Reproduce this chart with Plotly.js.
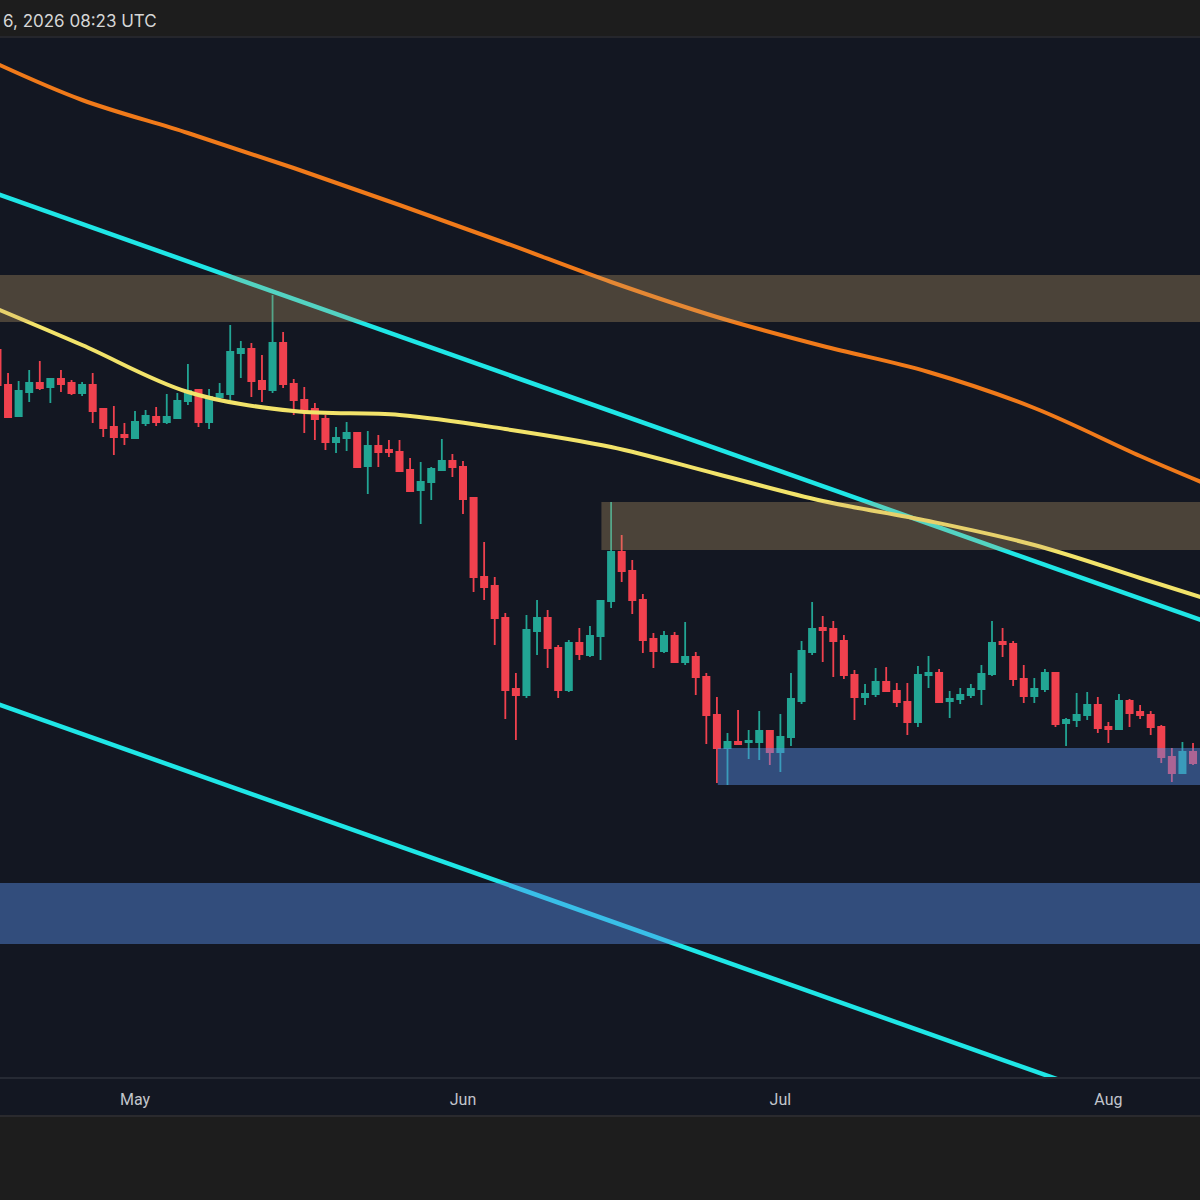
<!DOCTYPE html>
<html><head><meta charset="utf-8">
<script src="https://cdn.plot.ly/plotly-3.0.1.min.js"></script>
<style>html,body{margin:0;padding:0;background:#1e1e1e;}#chart{width:1200px;height:1200px;}</style>
</head><body><div id="chart"></div>
<script>
// ---- data (price in arbitrary chart units) ----
const firstDay = [2026, 3, 18]; // 18 Apr 2026, daily candles
const openVals = [
 728,693,662,686,695,691,699,695,685,693,669,651,643,
 640,655,661,656,660,677,688,656,681,684,
 725,729,697,688,735,694,678,669,659,636,
 640,645,612,632,628,626,608,588,596,608,
 617,611,580,501,492,460,389,383,447,460,
 430,388,435,423,442,477,526,507,478,439,
 427,442,416,421,401,363,330,336,336,336,
 347,326,341,377,426,450,449,437,403,381,
 384,396,387,376,356,403,405,377,379,383,
 389,404,436,434,399,382,389,405,355,358,
 363,373,351,349,377,366,363,351,321,305,326];
const closeVals = [
 693,661,687,695,690,699,694,685,693,667,650,641,641,
 656,662,656,661,677,687,656,681,684,726,
 729,697,689,735,694,678,668,659,636,640,
 645,611,632,626,626,607,587,596,609,617,
 611,579,501,491,460,388,383,448,460,430,
 388,435,424,442,477,526,507,478,438,427,
 442,416,421,401,363,330,336,334,337,347,
 326,341,379,427,449,448,437,403,381,384,
 396,387,376,356,403,405,376,379,383,389,
 404,435,434,399,382,389,405,354,358,363,
 373,350,349,377,365,363,351,321,305,326,315];
const highVals = [
 733,705,697,708,717,700,708,698,696,705,670,672,655,
 667,668,671,684,685,714,689,689,695,753,
 737,735,723,783,746,699,691,675,663,651,
 656,646,647,643,638,638,620,616,611,639,
 624,617,580,536,501,465,405,463,478,468,
 433,438,450,452,478,576,543,518,484,445,
 447,446,456,426,405,381,345,368,348,367,
 348,364,405,437,476,462,457,443,408,394,
 410,411,395,395,412,422,409,387,390,394,
 413,457,450,437,413,400,409,406,360,385,
 386,381,356,384,379,373,367,353,330,336,335];
const lowVals = [
 690,660,661,676,688,675,686,683,682,655,641,623,633,
 639,652,652,654,659,673,651,649,678,678,
 700,681,676,685,690,663,645,638,628,625,
 627,610,584,611,621,606,586,554,578,607,
 601,564,486,478,433,359,338,380,423,410,
 380,386,418,421,418,470,496,464,425,410,
 425,415,413,383,334,295,293,333,319,318,
 313,306,332,374,423,416,401,399,358,373,
 381,386,371,343,351,390,375,360,374,380,
 373,402,421,392,375,375,386,351,332,351,
 358,345,335,348,351,359,343,315,296,304,313];

const maDates = ['2026-04-18','2026-04-26','2026-05-06','2026-05-16','2026-05-26','2026-06-05',
                 '2026-06-15','2026-06-25','2026-07-05','2026-07-15','2026-07-25','2026-08-04','2026-08-10'];
const maSlow = [1014,978,945,910,873,835,796,761,732,706,670,622,595];   // orange
const maFast = [769,733,686,667,663,649,631,604,577,557,533,500,480];     // yellow

const channelDates = ['2026-04-18','2026-08-10'];
const channelUpper = [884, 457];
const channelLower = [374, -53];

const zoneStart = ['2026-04-01','2026-06-14 02:00','2026-06-25 02:00','2026-04-01'];
const zoneLow   = [756, 528, 293, 134];
const zoneHigh  = [803, 576, 330, 195];
const zoneKind  = ['supply','supply','demand','demand'];

const tickDates  = ['2026-05-01','2026-06-01','2026-07-01','2026-08-01'];
const tickLabels = ['May','Jun','Jul','Aug'];
const headerText = '6, 2026 08:23 UTC';

// ---- build ----
const dates = openVals.map((_, i) => {
  const d = new Date(Date.UTC(firstDay[0], firstDay[1], firstDay[2] + i));
  return d.toISOString().slice(0, 10);
});

const GREEN = '#22a594', RED = '#f0414e', CYAN = '#1fe6e6';
const zoneColors = {supply: 'rgba(206,170,111,0.30)', demand: 'rgba(88,145,236,0.45)'};

const traces = [
  {type:'scatter', mode:'lines', x:channelDates, y:channelUpper, line:{color:CYAN, width:4.5}, hoverinfo:'skip'},
  {type:'scatter', mode:'lines', x:channelDates, y:channelLower, line:{color:CYAN, width:4.5}, hoverinfo:'skip'},
  {type:'scatter', mode:'lines', x:maDates, y:maSlow, line:{color:'#f07a1a', width:4, shape:'spline', smoothing:1}, hoverinfo:'skip'},
  {type:'scatter', mode:'lines', x:maDates, y:maFast, line:{color:'#f2e36a', width:4, shape:'spline', smoothing:1}, hoverinfo:'skip'},
  {type:'candlestick', x:dates, open:openVals, high:highVals, low:lowVals, close:closeVals,
   increasing:{line:{color:GREEN, width:1.8}, fillcolor:GREEN},
   decreasing:{line:{color:RED, width:1.8}, fillcolor:RED},
   whiskerwidth:0, hoverinfo:'skip'}
];

const plotH = 1041;
const shapes = zoneStart.map((s, i) => ({
  type:'rect', xref:'x', yref:'y', x0:s, x1:'2026-08-20', y0:zoneLow[i], y1:zoneHigh[i],
  fillcolor:zoneColors[zoneKind[i]], line:{width:0}, layer:'above'
}));
// x-axis strip and separators
shapes.push({type:'rect', xref:'paper', yref:'paper', x0:0, x1:1, y0:-37/plotH, y1:0, fillcolor:'#131722', line:{width:0}, layer:'below'});
shapes.push({type:'line', xref:'paper', yref:'paper', x0:0, x1:1, y0:0, y1:0, line:{color:'#262a34', width:2}, layer:'above'});
shapes.push({type:'line', xref:'paper', yref:'paper', x0:0, x1:1, y0:-38/plotH, y1:-38/plotH, line:{color:'#2a2a2e', width:2}, layer:'above'});
shapes.push({type:'line', xref:'paper', yref:'paper', x0:0, x1:1, y0:1, y1:1, line:{color:'#25262c', width:2}, layer:'above'});

const layout = {
  width:1200, height:1200,
  margin:{l:0, r:0, t:37, b:122, pad:0},
  paper_bgcolor:'#1d1d1d', plot_bgcolor:'#131722',
  showlegend:false, hovermode:false, boxgap:0.16,
  xaxis:{type:'date', range:['2026-04-18 05:45','2026-08-09 15:50'],
         showgrid:false, zeroline:false, showline:false, ticks:'',
         tickvals:tickDates, ticktext:tickLabels, ticklabelstandoff:10,
         tickfont:{family:'Roboto, Noto Sans, sans-serif', size:16, color:'#c2c5cc'},
         rangeslider:{visible:false}, fixedrange:true},
  yaxis:{range:[0, plotH], showgrid:false, zeroline:false, showline:false,
         showticklabels:false, ticks:'', fixedrange:true},
  shapes:shapes,
  annotations:[{xref:'paper', yref:'paper', x:1/1200, y:1 + 16/plotH, xanchor:'left', yanchor:'middle',
                text:headerText, showarrow:false,
                font:{family:'Inter, Roboto, sans-serif', size:17, color:'#d6d6d6'}}]
};

Plotly.newPlot('chart', traces, layout, {staticPlot:true, displayModeBar:false});
</script></body></html>
